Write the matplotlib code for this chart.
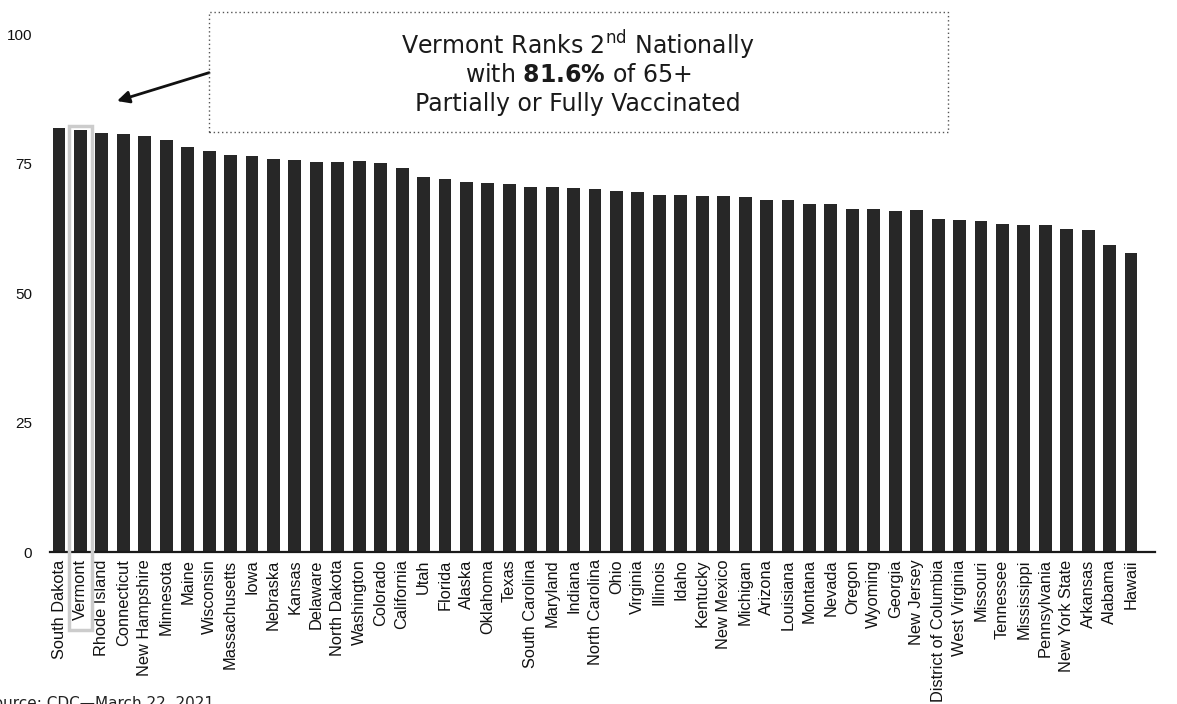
import matplotlib
matplotlib.use("Agg")
import matplotlib.pyplot as plt
from matplotlib.patches import Rectangle

# Datos: % de 65+ parcial o totalmente vacunados (CDC, 22 marzo 2021)
estados = ["South Dakota", "Vermont", "Rhode Island", "Connecticut", "New Hampshire",
           "Minnesota", "Maine", "Wisconsin", "Massachusetts", "Iowa", "Nebraska",
           "Kansas", "Delaware", "North Dakota", "Washington", "Colorado", "California",
           "Utah", "Florida", "Alaska", "Oklahoma", "Texas", "South Carolina", "Maryland",
           "Indiana", "North Carolina", "Ohio", "Virginia", "Illinois", "Idaho",
           "Kentucky", "New Mexico", "Michigan", "Arizona", "Louisiana", "Montana",
           "Nevada", "Oregon", "Wyoming", "Georgia", "New Jersey", "District of Columbia",
           "West Virginia", "Missouri", "Tennessee", "Mississippi", "Pennsylvania",
           "New York State", "Arkansas", "Alabama", "Hawaii"]
valores = [82.0, 81.6, 80.9, 80.7, 80.4, 79.6, 78.3, 77.5, 76.7, 76.5, 75.9,
           75.7, 75.4, 75.4, 75.5, 75.25, 74.3, 72.5, 72.1, 71.6, 71.3, 71.1,
           70.6, 70.6, 70.3, 70.1, 69.8, 69.6, 69.0, 69.0, 68.8, 68.8, 68.6,
           68.1, 68.1, 67.3, 67.3, 66.3, 66.3, 66.0, 66.1, 64.4, 64.1, 63.9,
           63.4, 63.2, 63.2, 62.5, 62.2, 59.4, 57.9]
yticks = [0, 25, 50, 75, 100]
destacado = "Vermont"

plt.rcParams['font.family'] = ['Liberation Sans', 'DejaVu Sans']
plt.rcParams['mathtext.fontset'] = 'dejavusans'

fig = plt.figure(figsize=(11.77, 7.04), dpi=100)
ax = fig.add_axes([0.0425, 0.2152, 0.9385, 0.7358])

x = list(range(len(estados)))
ax.bar(x, valores, width=0.6, color='#272727')

ax.set_xlim(-0.42, 51.1)
ax.set_ylim(0, 100)
ax.set_yticks(yticks)
ax.set_yticklabels([str(t) for t in yticks], fontsize=11, color='#111111')
ax.set_xticks(x)
ax.set_xticklabels(estados, rotation=90, fontsize=11.8, color='#111111')
ax.tick_params(axis='y', length=0, pad=13)
ax.tick_params(axis='x', length=0, pad=5)

for s in ['top', 'right', 'left']:
    ax.spines[s].set_visible(False)
ax.spines['bottom'].set_linewidth(1.6)
ax.spines['bottom'].set_color('#1a1a1a')

# Recuadro gris alrededor de Vermont
iv = estados.index(destacado)
ax.add_patch(Rectangle((iv - 0.55, -15), 1.1, valores[iv] + 0.7 + 15,
                       fill=False, edgecolor='#cccccc', linewidth=2.5,
                       clip_on=False, zorder=3))

# Caja de anotacion punteada
fig.patches.append(Rectangle((209 / 1177, 1 - 132 / 704), (948 - 209) / 1177, 120 / 704,
                             transform=fig.transFigure, fill=False,
                             edgecolor='#555555', linestyle=(0, (1, 2)), linewidth=1))

fig.text(0.491, 1 - 45 / 704, r"Vermont Ranks 2$^{\rm nd}$ Nationally", family='DejaVu Sans',
         fontsize=17, ha='center', va='center', color='#1a1a1a')
fig.text(0.491, 1 - 75 / 704, r"with $\mathbf{81.6\%}$ of 65+", family='DejaVu Sans',
         fontsize=17, ha='center', va='center', color='#1a1a1a')
fig.text(0.491, 1 - 104 / 704, "Partially or Fully Vaccinated", family='DejaVu Sans',
         fontsize=17, ha='center', va='center', color='#1a1a1a')

# Flecha
ax.annotate("", xy=(117 / 1177, 1 - 101 / 704), xycoords='figure fraction',
            xytext=(209 / 1177, 1 - 72.7 / 704), textcoords='figure fraction',
            arrowprops=dict(arrowstyle='-|>', color='#111111', lw=2,
                            mutation_scale=18, shrinkA=0, shrinkB=0))

# Fuente (cortada en el borde, como en el original)
fig.text(-16 / 1177, 1 - 696 / 704, "Source: CDC\u2014March 22, 2021", family='DejaVu Sans',
         fontsize=11, ha='left', va='top', color='#222222')

fig.savefig("out.png", dpi=100)
